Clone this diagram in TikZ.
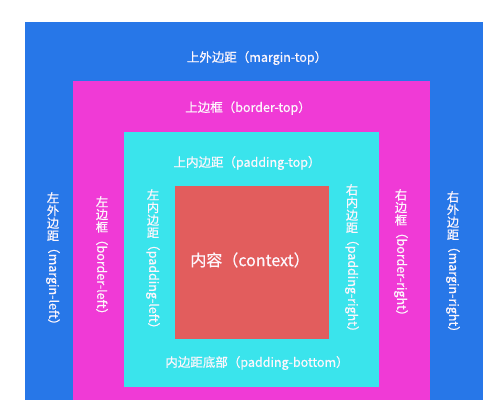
\documentclass[tikz,border=0pt]{standalone}
\usepackage{fontspec}
\setmainfont{Noto Sans CJK SC}
\newfontfamily\cjk[FakeBold=0.6]{Noto Sans CJK SC}
\definecolor{mblue}{HTML}{2777E8}
\definecolor{mmag}{HTML}{F03AD6}
\definecolor{mcyan}{HTML}{3AE4EC}
\definecolor{mred}{HTML}{E25D5D}
\definecolor{txt}{HTML}{FDF6FC}
\tikzset{
  hlabel/.style={inner sep=0pt, text=txt, font=\cjk\fontsize{12.5}{14}\selectfont},
  vcjk/.style={inner sep=0pt, text=txt, align=center, anchor=north, font=\cjk\fontsize{12.3}{12.6}\selectfont},
  vlat/.style={inner sep=0pt, text=txt, anchor=west, rotate=-90, font=\cjk\fontsize{12.5}{14}\selectfont},
}
\begin{document}
\begin{tikzpicture}[x=1pt,y=-1pt]
\useasboundingbox (0,0) rectangle (500,400);
\fill[white] (0,0) rectangle (500,400);
\path[fill=mblue] (24.5,22) rectangle (483,400);
\path[fill=mmag] (73,81) rectangle (430,400);
\path[fill=mcyan] (124,132) rectangle (379,387);
\path[fill=mred] (175,186) rectangle (328.5,339);
% horizontal labels
\node[hlabel] (mt) at (257,58) {上外边距（margin-top）};
\node[hlabel] (bt) at (248,108) {上边框（border-top）};
\node[hlabel] (pt) at (247,163) {上内边距（padding-top）};
\node[hlabel, font=\cjk\fontsize{16}{18}\selectfont] (ct) at (250,260) {内容（context）};
\node[hlabel] (pb) at (257,363) {内边距底部（padding-bottom）};
% vertical labels
\node[vcjk] (mlc) at (53,192) {左\\外\\边\\距};
\node[vlat] (mll) at (mlc.south) {（margin-left）};
\node[vcjk] (blc) at (102,196) {左\\边\\框};
\node[vlat] (bll) at (blc.south) {（border-left）};
\node[vcjk] (plc) at (153,189) {左\\内\\边\\距};
\node[vlat] (pll) at (plc.south) {（padding-left）};
\node[vcjk] (prc) at (352,184) {右\\内\\边\\距};
\node[vlat] (prl) at (prc.south) {（padding-right）};
\node[vcjk] (brc) at (401,189) {右\\边\\框};
\node[vlat] (brl) at (brc.south) {（border-right）};
\node[vcjk] (mrc) at (453,191) {右\\外\\边\\距};
\node[vlat] (mrl) at (mrc.south) {（margin-right）};
\end{tikzpicture}
\end{document}
